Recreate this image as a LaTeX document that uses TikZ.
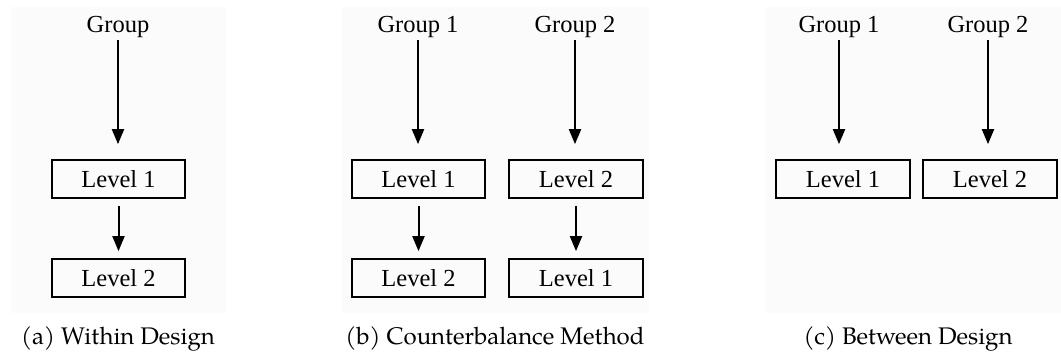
\documentclass[tikz,border=0pt]{standalone}
\usepackage{fontspec}
\setmainfont{Liberation Serif}
\newfontfamily\capfont{TeX Gyre Pagella}
\usetikzlibrary{arrows.meta}
\begin{document}
\begin{tikzpicture}[x=1pt,y=-1pt,
  panel/.style={fill=black!1.5, draw=none},
  lvl/.style={draw, line width=1.7pt, minimum width=133.5pt, minimum height=38pt, inner sep=0pt, font=\fontsize{24.5}{28}\selectfont},
  grp/.style={inner sep=0pt, anchor=base, font=\fontsize{24.5}{28}\selectfont},
  captext/.style={anchor=base, inner sep=0pt, font=\capfont\fontsize{24}{28}\selectfont},
  arr/.style={line width=2pt, -{Triangle[length=15pt,width=12pt]}}]
\useasboundingbox (0,0) rectangle (1061,354);
% panels
\fill[panel] (11,7) rectangle (226,313);
\fill[panel] (342,7) rectangle (649,313);
\fill[panel] (765,7) rectangle (1061,313);
% (a)
\node[grp] (ag) at (118,32) {Group};
\node[lvl] (a1) at (118.5,179) {Level 1};
\node[lvl] (a2) at (118.5,278) {Level 2};
\draw[arr, shorten <=3pt, shorten >=15pt] (ag.south) -- (ag.south |- a1.north);
\draw[arr, shorten <=7pt, shorten >=7pt] (a1) -- (a2);
% (b)
\node[grp] (bg1) at (418,32) {Group 1};
\node[grp] (bg2) at (575,32) {Group 2};
\node[lvl] (b11) at (418.5,179) {Level 1};
\node[lvl] (b12) at (418.5,278) {Level 2};
\node[lvl] (b21) at (576,179) {Level 2};
\node[lvl] (b22) at (576,278) {Level 1};
\draw[arr, shorten <=3pt, shorten >=15pt] (bg1.south) -- (bg1.south |- b11.north);
\draw[arr, shorten <=3pt, shorten >=15pt] (bg2.south) -- (bg2.south |- b21.north);
\draw[arr, shorten <=7pt, shorten >=7pt] (b11) -- (b12);
\draw[arr, shorten <=7pt, shorten >=7pt] (b21) -- (b22);
% (c)
\node[grp] (cg1) at (839,32) {Group 1};
\node[grp] (cg2) at (988,32) {Group 2};
\node[lvl] (c1) at (843,179) {Level 1};
\node[lvl] (c2) at (990,179) {Level 2};
\draw[arr, shorten <=3pt, shorten >=15pt] (cg1.south) -- (cg1.south |- c1.north);
\draw[arr, shorten <=3pt, shorten >=15pt] (cg2.south) -- (cg2.south |- c2.north);
% captions
\node[captext] (capa) at (118,344) {(a) Within Design};
\node[captext] (capb) at (495,344) {(b) Counterbalance Method};
\node[captext] (capc) at (908,344) {(c) Between Design};
\end{tikzpicture}
\end{document}
